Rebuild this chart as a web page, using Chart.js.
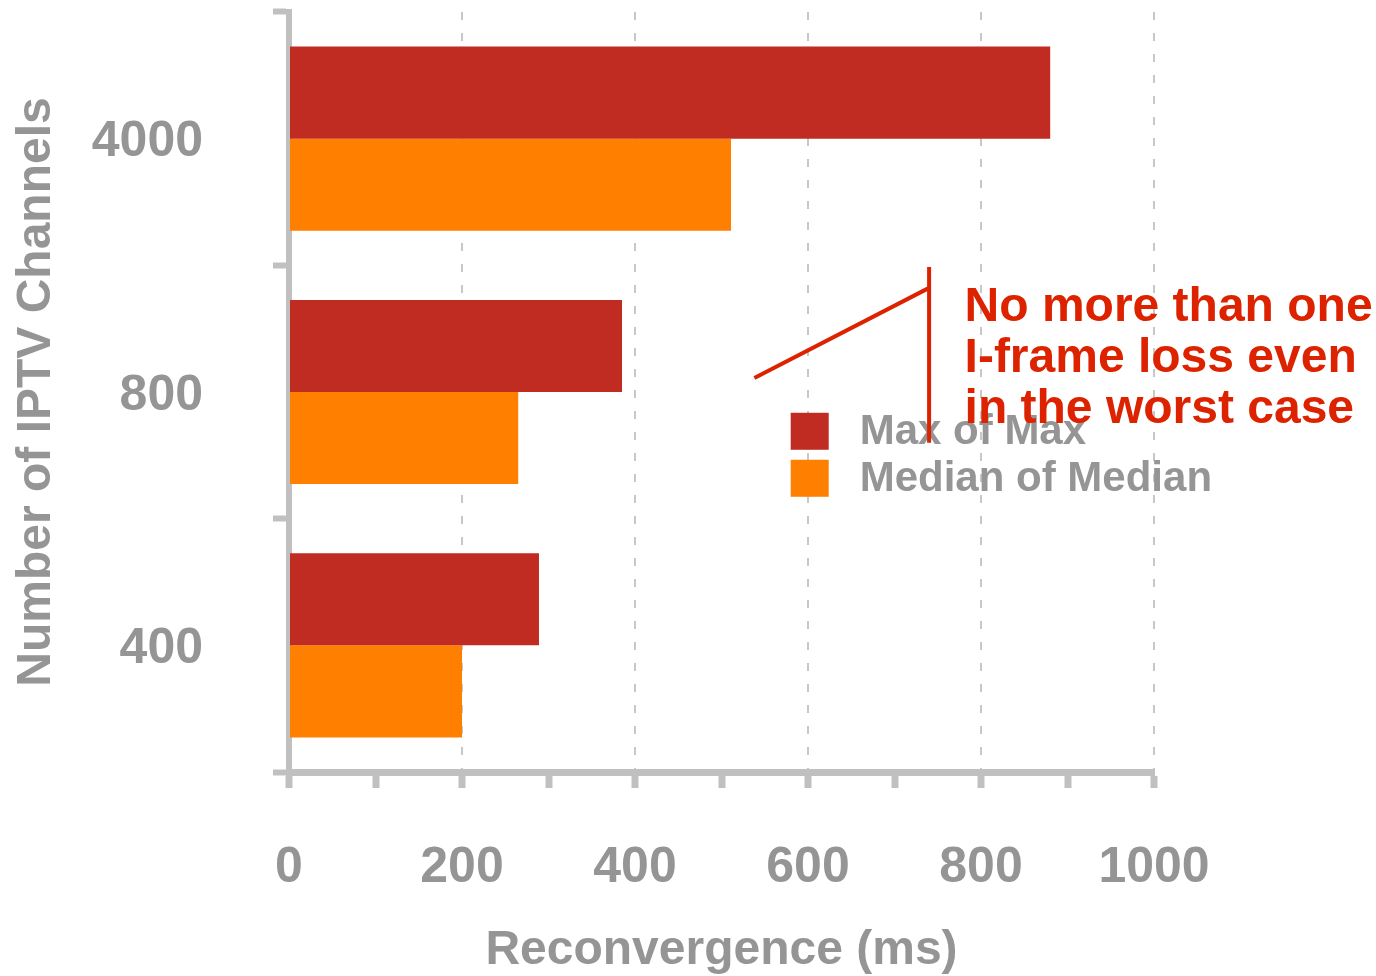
<!DOCTYPE html>
<html>
<head>
<meta charset="utf-8">
<title>Reconvergence</title>
<script src="https://cdn.jsdelivr.net/npm/chart.js@4/dist/chart.umd.min.js"></script>
<style>
  html, body { margin: 0; padding: 0; background: #fff; }
  #wrap { width: 1376px; height: 976px; }
</style>
</head>
<body>
<div id="wrap"><canvas id="chart" width="1376" height="976"></canvas></div>
<script>
// ── Data ──
const channels = ['4000', '800', '400'];
const maxOfMax = [880, 385, 289];
const medianOfMedian = [511, 265, 200];
const seriesNames = ['Max of Max', 'Median of Median'];
const xMajorTicks = [0, 200, 400, 600, 800, 1000];
const noteLines = ['No more than one', 'I-frame loss even', 'in the worst case'];

// ── Colours ──
const RED = '#c12c22';
const ORANGE = '#ff7f00';
const GREY_TEXT = '#959595';
const GREY_AXIS = '#c0c0c0';
const GREY_GRID = '#c8c8c8';
const NOTE_RED = '#dd2200';
const FONT = '"Liberation Sans", Arial, sans-serif';

// ── Legend drawn inside the plot ──
const insideLegend = {
  id: 'insideLegend',
  afterDatasetsDraw(chart) {
    const { ctx, scales: { x, y } } = chart;
    const left = x.getPixelForValue(580);
    const top = y.getPixelForValue(1.082);
    ctx.save();
    ctx.font = 'bold 42px ' + FONT;
    ctx.textBaseline = 'middle';
    chart.data.datasets.forEach((ds, i) => {
      const ty = top + i * 47;
      ctx.fillStyle = ds.backgroundColor;
      ctx.fillRect(left, ty, 38, 37);
      ctx.fillStyle = GREY_TEXT;
      ctx.fillText(ds.label, left + 69, ty + 20);
    });
    ctx.restore();
  }
};

// ── Callout note ──
const callout = {
  id: 'callout',
  afterDraw(chart) {
    const { ctx, scales: { x, y } } = chart;
    const vx = x.getPixelForValue(740);
    ctx.save();
    ctx.strokeStyle = NOTE_RED;
    ctx.lineWidth = 4;
    ctx.beginPath();
    ctx.moveTo(vx, y.getPixelForValue(0.507));
    ctx.lineTo(vx, y.getPixelForValue(1.2));
    ctx.moveTo(x.getPixelForValue(538), y.getPixelForValue(0.945));
    ctx.lineTo(vx, y.getPixelForValue(0.589));
    ctx.stroke();

    ctx.fillStyle = NOTE_RED;
    ctx.font = 'bold 48px ' + FONT;
    ctx.textBaseline = 'alphabetic';
    const tx = x.getPixelForValue(781);
    const ty = y.getPixelForValue(0.72);
    noteLines.forEach((line, i) => ctx.fillText(line, tx, ty + i * 51));
    ctx.restore();
  }
};

new Chart(document.getElementById('chart'), {
  type: 'bar',
  data: {
    labels: channels,
    datasets: [
      { label: seriesNames[0], data: maxOfMax, backgroundColor: RED },
      { label: seriesNames[1], data: medianOfMedian, backgroundColor: ORANGE }
    ]
  },
  options: {
    indexAxis: 'y',
    responsive: false,
    animation: false,
    categoryPercentage: 0.727,
    barPercentage: 1,
    layout: { padding: { top: 12, right: 222, left: 0, bottom: 0 } },
    plugins: { legend: { display: false }, tooltip: { enabled: false } },
    scales: {
      x: {
        min: 0,
        max: 1000,
        afterFit: s => { s.height = 204; },
        ticks: {
          stepSize: 100,
          autoSkip: false,
          maxRotation: 0,
          padding: 50,
          color: GREY_TEXT,
          font: { family: FONT, size: 50, weight: 'bold' },
          callback: v => xMajorTicks.includes(v) ? String(v) : ''
        },
        grid: {
          color: c => (c.tick && c.tick.value % 200 === 0 && c.tick.value !== 0) ? GREY_GRID : 'rgba(0,0,0,0)',
          lineWidth: 2,
          tickColor: GREY_AXIS,
          tickWidth: 7,
          tickLength: 16
        },
        border: { display: true, color: GREY_AXIS, width: 7, dash: [8, 13] },
        title: {
          display: true,
          text: 'Reconvergence (ms)',
          color: GREY_TEXT,
          font: { family: FONT, size: 48, weight: 'bold' },
          padding: { top: 0, bottom: -4 }
        }
      },
      y: {
        // label padding would otherwise push the plot down
        afterFit: s => { s.width = 289; s.paddingTop = 0; s.paddingBottom = 0; },
        offset: true,
        ticks: {
          padding: 70,
          labelOffset: 4,
          color: GREY_TEXT,
          font: { family: FONT, size: 50, weight: 'bold' }
        },
        grid: {
          offset: true,
          drawOnChartArea: false,
          drawTicks: true,
          tickLength: 16,
          tickWidth: 6,
          tickColor: GREY_AXIS,
          color: GREY_AXIS
        },
        border: { display: true, color: GREY_AXIS, width: 6 },
        title: {
          display: true,
          text: 'Number of IPTV Channels',
          color: GREY_TEXT,
          font: { family: FONT, size: 48, weight: 'bold' },
          padding: { top: 8, bottom: 0 }
        }
      }
    }
  },
  plugins: [insideLegend, callout]
});
</script>
</body>
</html>
